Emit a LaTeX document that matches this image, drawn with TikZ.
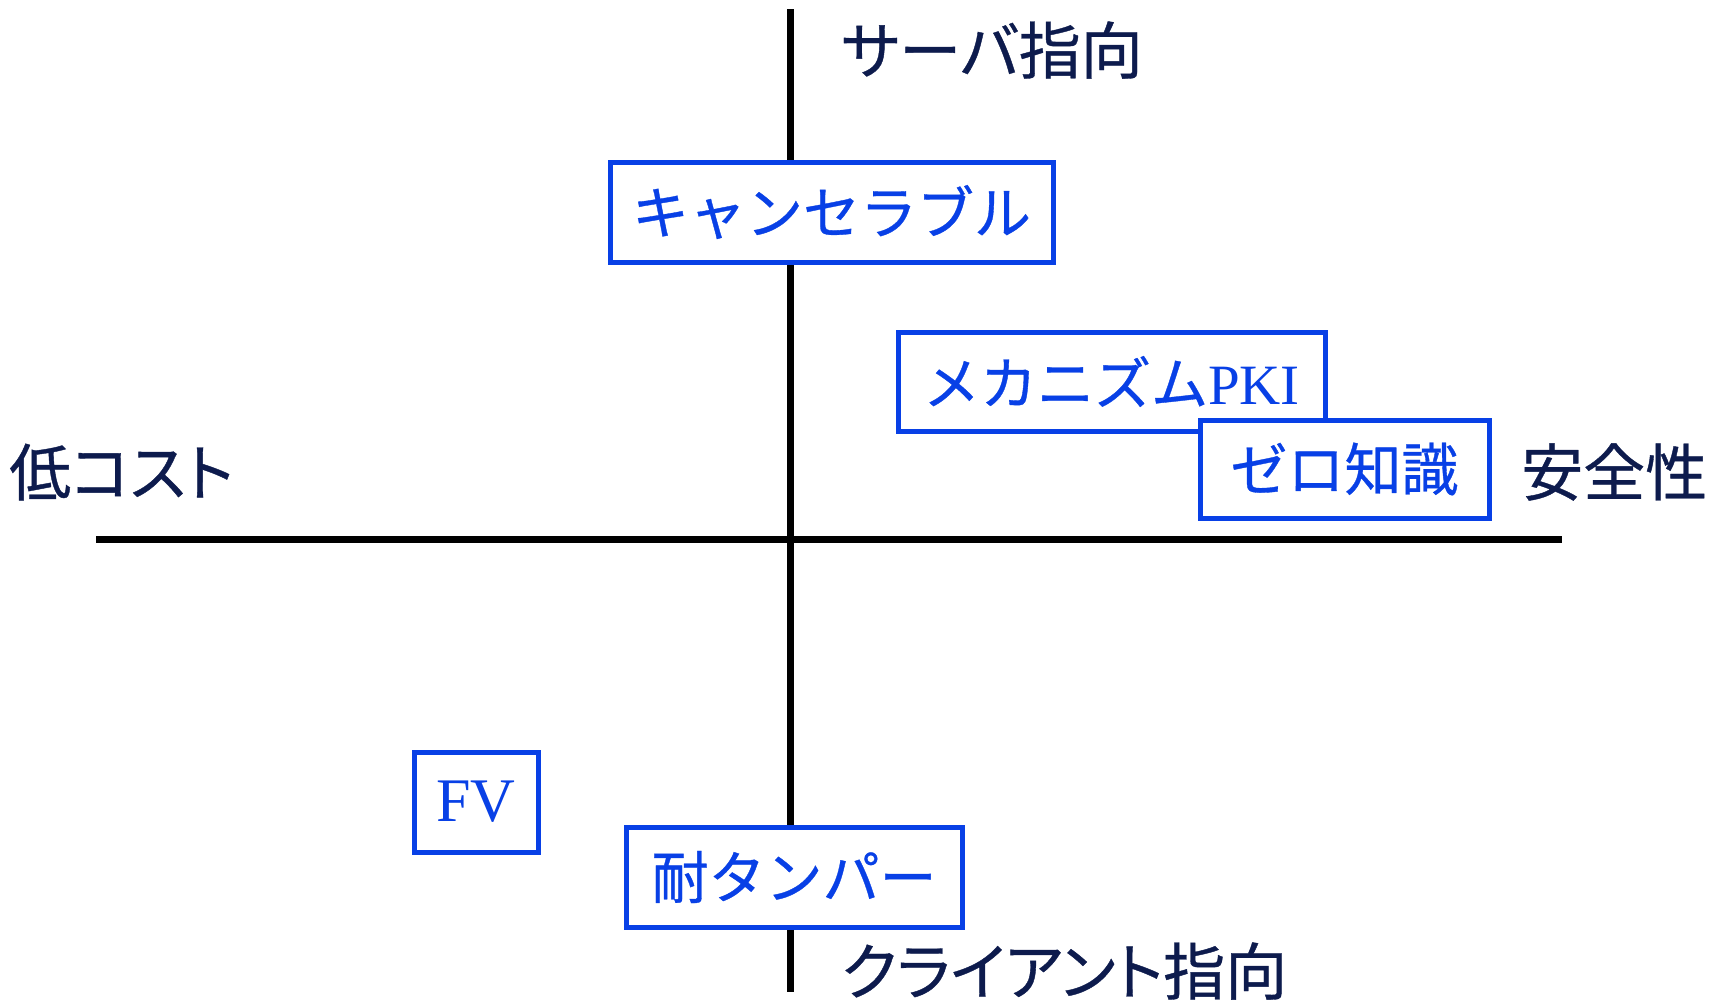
\documentclass[tikz,border=0pt]{standalone}
\usepackage{fontspec}
\setmainfont{Noto Sans CJK JP}[FakeBold=0.6]
\newfontfamily\labfont{Noto Sans CJK JP}[FakeBold=0.6,RawFeature=+palt]
\newfontfamily\lat{Liberation Serif}
\definecolor{navy}{RGB}{13,27,77}
\definecolor{boxblue}{RGB}{8,64,230}
\begin{document}
\begin{tikzpicture}[x=1pt,y=-1pt,
  axis/.style={line width=7pt,black},
  lab/.style={anchor=west,inner sep=0pt,text=navy,font=\labfont\fontsize{62}{70}\selectfont},
  item/.style={draw=boxblue,line width=5pt,fill=white,text=boxblue,inner sep=0pt,
    font=\fontsize{57}{64}\selectfont}]
\useasboundingbox (0,0) rectangle (1728,999);
\coordinate (vt) at (790,9);
\coordinate (vb) at (790,992);
\coordinate (hl) at (96,539);
\coordinate (hr) at (1562,539);
\draw[axis] (vt) -- (vb);
\draw[axis] (hl) -- (hr);
\node[lab] (server) at (841,50) {サーバ指向};
\node[lab] (client) at (841,971) {クライアント指向};
\node[lab] (cost) at (9,472) {低コスト};
\node[lab] (safe) at (1521,472) {安全性};
\node[item,minimum width=443pt,minimum height=100pt] (cancel) at (831.5,212) {キャンセラブル};
\node[item,minimum width=427pt,minimum height=99pt] (mech) at (1111.5,381.5) {メカニズム{\lat PKI}};
\node[item,minimum width=289pt,minimum height=98pt] (zero) at (1344.5,469) {ゼロ知識};
\node[item,minimum width=124pt,minimum height=100pt] (fv) at (476,802) {\lat\fontsize{62}{70}\selectfont FV};
\node[item,minimum width=336pt,minimum height=100pt] (tamper) at (794,877) {耐タンパー};
\end{tikzpicture}
\end{document}
